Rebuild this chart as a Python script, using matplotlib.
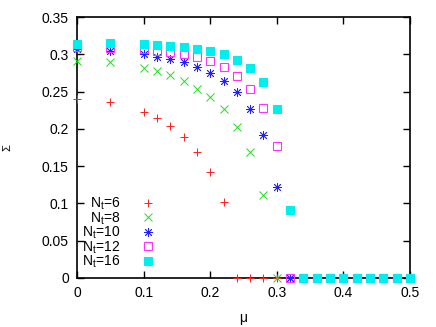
import matplotlib
matplotlib.use('Agg')
from matplotlib import pyplot as plt

plt.rcParams['font.family'] = ['Liberation Sans', 'DejaVu Sans']
plt.rcParams['mathtext.fontset'] = 'custom'
plt.rcParams['mathtext.rm'] = 'Liberation Sans'
plt.rcParams['mathtext.it'] = 'Liberation Sans:italic'

mu = [0.0, 0.05, 0.10, 0.12, 0.14, 0.16, 0.18, 0.20, 0.22, 0.24, 0.26, 0.28,
      0.30, 0.32, 0.34, 0.36, 0.38, 0.40, 0.42, 0.44, 0.46, 0.48, 0.50]

sigma_nt6 = [0.240, 0.236, 0.223, 0.215, 0.204, 0.189, 0.169, 0.1425, 0.1015,
             0, 0, 0, 0, 0, 0, 0, 0, 0, 0, 0, 0, 0, 0]
sigma_nt8 = [0.291, 0.289, 0.282, 0.2775, 0.272, 0.2645, 0.254, 0.2425, 0.226,
             0.203, 0.169, 0.111, 0, 0, 0, 0, 0, 0, 0, 0, 0, 0, 0]
sigma_nt10 = [0.3066, 0.3047, 0.300, 0.2967, 0.2936, 0.289, 0.283, 0.275, 0.264,
              0.249, 0.227, 0.1917, 0.1224, 0, 0, 0, 0, 0, 0, 0, 0, 0, 0]
sigma_nt12 = [0.310, 0.309, 0.307, 0.3047, 0.3025, 0.300, 0.2967, 0.2905, 0.2824,
              0.2708, 0.254, 0.2275, 0.1774, 0, 0, 0, 0, 0, 0, 0, 0, 0, 0]
sigma_nt16 = [0.314, 0.3146, 0.3133, 0.3123, 0.3114, 0.310, 0.3074, 0.3047, 0.300,
              0.2927, 0.2815, 0.263, 0.2265, 0.0916, 0, 0, 0, 0, 0, 0, 0, 0, 0]

labels = [r'N$_\mathrm{t}$=6', r'N$_\mathrm{t}$=8', r'N$_\mathrm{t}$=10',
          r'N$_\mathrm{t}$=12', r'N$_\mathrm{t}$=16']

fig = plt.figure(figsize=(4.36, 3.27), dpi=100)
ax = fig.add_axes([0.177, 0.150, 0.763, 0.798])

ax.plot(mu, sigma_nt6, ls='none', marker='+', ms=6, mew=0.7, color='#ff2020',
        clip_on=False, zorder=3, label=labels[0])
ax.plot(mu, sigma_nt8, ls='none', marker='x', ms=5.5, mew=0.7, color='#22dd22',
        clip_on=False, zorder=3, label=labels[1])
ax.plot(mu, sigma_nt10, ls='none', marker=(8, 2, 0), ms=6.5, mew=0.6, color='#2020ff',
        clip_on=False, zorder=3, label=labels[2])
ax.plot(mu, sigma_nt12, ls='none', marker='s', ms=6, mew=0.8, color='#ff33ff',
        mfc='none', clip_on=False, zorder=3, label=labels[3])
ax.plot(mu, sigma_nt16, ls='none', marker='s', ms=6, mew=0.8, color='#00eeee',
        clip_on=False, zorder=3, label=labels[4])

ax.set_xlim(0, 0.5)
ax.set_ylim(0, 0.35)
ax.set_xticks([0, 0.1, 0.2, 0.3, 0.4, 0.5])
ax.set_xticklabels(['0', '0.1', '0.2', '0.3', '0.4', '0.5'])
ax.set_yticks([0, 0.05, 0.1, 0.15, 0.2, 0.25, 0.3, 0.35])
ax.set_yticklabels(['0', '0.05', '0.1', '0.15', '0.2', '0.25', '0.3', '0.35'])
ax.tick_params(direction='in', top=True, right=True, length=5, width=1,
               labelsize=10, pad=6)
for s in ax.spines.values():
    s.set_linewidth(1.2)

ax.set_xlabel('μ', fontsize=10, labelpad=8)
ax.set_ylabel('Σ', fontsize=8, labelpad=21)

leg = ax.legend(loc='upper right', bbox_to_anchor=(0.234, 0.315), frameon=False,
                markerfirst=False, fontsize=10, handlelength=1.0,
                handletextpad=1.5, labelspacing=-0.14, borderpad=0,
                borderaxespad=0)
for col in leg._legend_handle_box.get_children():
    col.align = 'right'

fig.savefig('out.png', dpi=100)
